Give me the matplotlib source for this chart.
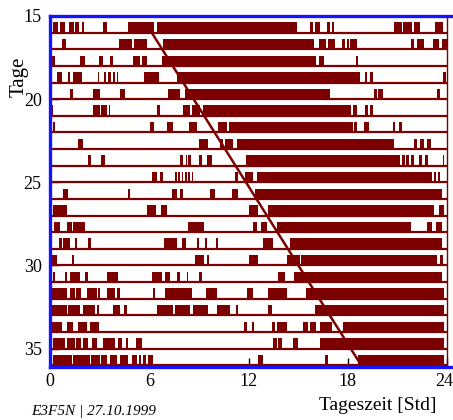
import matplotlib
matplotlib.use("Agg")
import matplotlib.pyplot as plt
from matplotlib.transforms import ScaledTranslation

# ---------------- data ----------------
days = list(range(15, 36))
act15 = [(0.2,0.5),(0.6,0.9),(1.17,1.45),(1.5,1.77),(1.96,2.08),(3.19,3.47),(4.74,6.29),(6.45,14.92),
         (15.73,15.89),(16.03,16.33),(16.77,16.95),(17.02,17.18),(20.8,21.27),(21.37,21.87),(21.98,22.38),(23.29,23.75)]
act16 = [(0.75,0.97),(4.17,4.95),(5.05,5.85),(6.81,15.94),(16.29,16.7),(16.8,17.24),(17.64,17.85),(17.95,18.05),
         (18.15,18.55),(21.85,22.03),(22.18,22.62),(23.13,23.53),(23.69,24.0)]
act17 = [(0.1,0.3),(1.81,2.12),(2.96,3.23),(3.63,3.83),(5.04,5.44),(5.54,5.89),(6.75,16.1),(16.29,16.57),(18.5,18.6)]
act18 = [(0.44,0.7),(1.1,1.2),(1.37,1.91),(2.88,2.98),(3.27,3.39),(3.53,3.67),(3.83,3.9),(4.05,4.13),(5.69,6.61),
         (7.66,18.75),(19.02,19.15),(19.35,19.5),(23.75,23.95)]
act19 = [(0.0,0.1),(1.21,1.37),(2.62,3.02),(4.23,4.54),(7.16,7.86),(8.17,16.94),(19.56,19.76),(19.82,20.16),(23.39,23.6)]
act20 = [(0.0,0.2),(2.58,3.02),(3.1,3.45),(3.55,3.63),(6.45,6.65),(8.02,8.47),(8.57,9.07),(9.27,18.2),(18.3,18.55),
         (19.06,19.25),(19.35,19.52)]
act21 = [(0.2,0.3),(6.05,6.29),(7.06,7.42),(8.43,8.87),(10.18,10.69),(10.8,18.3),(18.4,18.55),(19.0,19.3),
         (20.73,20.87),(21.07,21.27)]
act22 = [(1.71,2.02),(9.03,9.58),(10.28,10.48),(10.58,11.09),(11.29,20.77),(21.98,22.18),(22.38,22.62),(22.78,23.02)]
act23 = [(2.32,2.46),(3.08,3.33),(7.86,8.06),(8.2,8.28),(8.35,8.5),(9.03,9.17),(9.48,9.78),(11.85,21.17),
         (21.27,21.45),(21.55,21.7),(21.8,21.98),(22.3,22.5),(22.7,22.84),(23.75,23.83)]
act24 = [(6.15,6.45),(6.65,6.81),(7.56,7.66),(7.76,7.86),(7.96,8.06),(8.16,8.26),(8.36,8.46),(8.56,8.63),
         (11.19,11.39),(11.77,12.3),(12.5,23.1),(23.2,23.35),(23.45,23.6)]
act25 = [(0.8,1.1),(4.74,4.84),(7.36,7.66),(7.86,8.06),(9.68,9.98),(10.99,11.39),(12.4,23.7)]
act26 = [(0.16,1.0),(5.89,6.41),(6.69,7.1),(12.0,12.6),(13.2,23.2),(23.5,23.8)]
act27 = [(0.24,0.6),(1.0,1.31),(1.41,2.12),(8.37,9.31),(12.26,12.54),(12.76,13.1),(13.7,21.8),(22.78,23.08),(23.35,23.69)]
act28 = [(0.56,0.7),(0.8,1.21),(1.51,1.65),(2.32,2.46),(6.9,7.66),(7.96,8.23),(8.87,9.01),(9.37,9.52),
         (10.04,10.18),(12.86,13.5),(14.5,23.7)]
act29 = [(0.04,0.44),(1.31,1.45),(8.77,9.31),(9.48,9.62),(12.06,12.6),(14.3,15.1),(15.2,23.4),(23.6,23.75)]
act30 = [(0.16,0.3),(0.9,1.0),(1.21,1.81),(2.12,2.32),(3.43,4.13),(6.15,6.75),(6.96,7.26),(7.66,7.86),
         (8.27,8.37),(9.03,9.17),(13.8,14.2),(14.76,23.7)]
act31 = [(0.1,1.0),(1.2,1.5),(1.6,1.9),(2.26,2.82),(2.92,3.02),(3.43,3.93),(4.03,4.23),(6.21,6.35),(6.96,8.57),
         (9.44,10.08),(11.93,12.26),(13.2,14.3),(15.5,23.8)]
act32 = [(0.1,1.0),(1.1,1.81),(1.98,2.72),(2.82,2.98),(3.83,4.23),(4.47,4.64),(6.45,7.46),(7.56,8.47),
         (8.63,9.58),(10.12,10.89),(11.25,11.39),(13.2,13.4),(16.0,23.8)]
act33 = [(0.1,0.7),(1.0,1.41),(1.71,2.22),(2.42,2.98),(11.7,11.9),(12.2,12.36),(13.4,13.6),(13.7,14.3),
         (15.3,15.6),(15.7,16.1),(16.33,17.04),(17.7,23.8)]
act34 = [(0.2,0.9),(1.0,1.5),(1.6,1.9),(2.0,2.32),(2.52,2.82),(3.19,3.93),(4.13,4.33),(4.6,4.74),(5.2,5.55),
         (13.5,13.7),(13.8,14.0),(14.7,15.0),(16.3,23.8)]
act35 = [(0.2,1.3),(1.4,2.4),(2.5,3.0),(3.1,3.43),(3.63,4.03),(4.23,4.74),(4.94,5.24),(5.4,5.5),(5.6,5.8),
         (5.95,6.25),(12.6,12.9),(16.6,16.8),(18.6,23.8)]
activity_rows = [act15, act16, act17, act18, act19, act20, act21, act22, act23, act24, act25,
                 act26, act27, act28, act29, act30, act31, act32, act33, act34, act35]

trend_hours = [6.15, 18.86]
trend_days = [16.0, 36.08]

x_ticks = [0, 6, 12, 18, 24]
y_ticks = [15, 20, 25, 30, 35]
x_label = "Tageszeit [Std]"
y_label = "Tage"
footer = "E3F5N | 27.10.1999"

# ---------------- style ----------------
plt.rcParams['font.family'] = ['Liberation Serif', 'DejaVu Serif']
RED = '#7d0000'
BLUE = '#1414ff'
W, H = 453, 420

fig = plt.figure(figsize=(W / 100, H / 100), dpi=100)
ax = fig.add_axes([50 / W, 53 / H, 403 / W, 351 / H])
ax.set_xlim(0, 24 * 403 / 397)
ax.set_ylim(36.11, 15.0)

bar_h = 0.62
for d, acts in zip(days, activity_rows):
    base = d + 1
    ax.broken_barh([(s, e - s) for s, e in acts], (base - bar_h, bar_h),
                   facecolors=RED, edgecolors='none', zorder=2)
    ax.hlines(base, 0, 24, color=RED, lw=1.6, zorder=3)

ax.plot(trend_hours, trend_days, color=RED, lw=1.8, zorder=4)
ax.vlines(24, 15.0, 36.11, color=RED, lw=1.0, zorder=3)

for side in ['left', 'top', 'bottom']:
    ax.spines[side].set_color(BLUE)
    ax.spines[side].set_linewidth(2.4)
    ax.spines[side].set_zorder(5)
ax.spines['right'].set_visible(False)

ax.set_xticks(x_ticks)
ax.set_yticks(y_ticks)
ax.tick_params(direction='in', length=6.5, width=1, color='black', labelsize=13)
ax.tick_params(axis='y', pad=6)
ax.tick_params(axis='x', pad=4)

# keep the last x tick label ("24") inside the figure, right-aligned at the edge
last = ax.xaxis.get_major_ticks()[-1].label1
last.set_horizontalalignment('right')
last.set_transform(last.get_transform() + ScaledTranslation(6 / 100, 0, fig.dpi_scale_trans))

fig.text(19.5 / W, 1 - 77 / H, y_label, rotation=90, ha='center', va='center', fontsize=15)
fig.text(378 / W, 1 - 405 / H, x_label, ha='center', va='center', fontsize=14)
fig.text(94 / W, 1 - 412 / H, footer, ha='center', va='center', fontsize=11, style='italic')

fig.savefig('out.png', dpi=100)
